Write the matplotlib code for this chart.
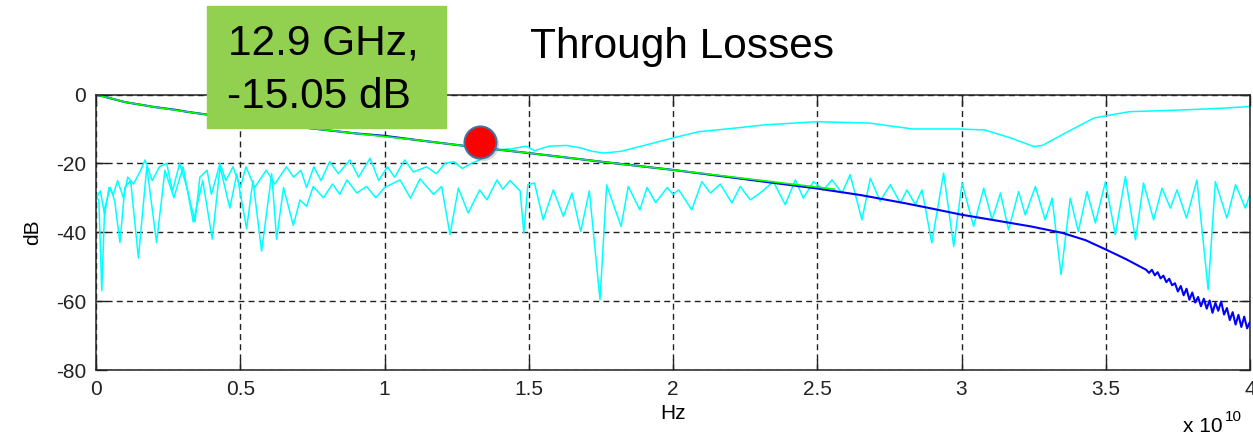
import matplotlib
matplotlib.use("Agg")
import matplotlib.pyplot as plt
from matplotlib.patches import Rectangle
import numpy as np

plt.rcParams["font.family"] = ["Liberation Sans", "DejaVu Sans"]
plt.rcParams["axes.unicode_minus"] = False

# through loss (blue, measured) - GHz / dB
thru_ghz = [0, 1, 2, 2.8, 3.14, 5, 7, 9, 10, 11.1, 12.9, 15, 17.5, 20, 22.5, 25,
            26.5, 28, 28.9, 30, 31.2, 32.4, 33.5, 34.3, 35.0, 35.7, 36.4,
            36.5, 36.6, 36.7, 36.8, 36.9, 37.0, 37.1, 37.2, 37.3, 37.4, 37.5,
            37.6, 37.7, 37.8, 37.9, 38.0, 38.1, 38.2, 38.3, 38.4, 38.5, 38.6,
            38.7, 38.8, 38.9, 39.0, 39.1, 39.2, 39.3, 39.4, 39.5, 39.6, 39.7,
            39.8, 39.9, 40.0]
thru_db = [0, -2.2, -3.6, -4.5, -5.0, -7.2, -9.4, -11.3, -12.0, -13.2, -15.05,
           -17.0, -19.5, -21.9, -24.6, -27.3, -29.2, -31.5, -33.0, -34.9, -36.6,
           -38.3, -40.2, -42.3, -45.0, -47.8, -50.9,
           -51.8, -50.9, -52.5, -51.6, -53.4, -52.6, -54.5, -53.5, -55.4, -54.8,
           -57.2, -55.6, -58.3, -56.4, -59.6, -57.5, -60.4, -58.8, -61.5, -59.3,
           -62.2, -59.8, -63.4, -60.5, -62.8, -60.1, -63.9, -62.0, -65.5, -63.2,
           -66.8, -64.0, -67.5, -64.5, -67.9, -66.0]

# fitted through loss (green)
fit_ghz = [0, 1, 2, 3.14, 5, 7, 9, 11.1, 12.9, 15, 17.5, 20, 22.5, 25, 25.6]
fit_db = [0, -2.2, -3.6, -5.0, -7.2, -9.4, -11.3, -13.2, -15.05, -17.0, -19.5,
          -21.9, -24.4, -26.9, -27.5]

# return loss, port 1 (cyan, deep nulls)
rl1_ghz = [0.0, 0.1, 0.2, 0.3, 0.5, 0.65, 0.83, 1.0, 1.2, 1.47, 1.76, 2.1, 2.39,
           2.7, 3.02, 3.37, 3.7, 4.03, 4.3, 4.64, 4.88, 5.22, 5.44, 5.74, 6.09,
           6.26, 6.5, 6.84, 7.07, 7.3, 7.53, 7.88, 8.2, 8.45, 8.7, 9.04, 9.38,
           9.7, 10.0, 10.54, 10.9, 11.23, 11.7, 11.98, 12.27, 12.56, 12.9, 13.3,
           13.55, 13.9, 14.1, 14.35, 14.7, 14.83, 14.97, 15.2, 15.5, 15.85, 16.2,
           16.5, 16.8, 17.1, 17.47, 17.7, 18.2, 18.45, 18.85, 19.1, 19.4, 19.8,
           20.0, 20.2, 20.65, 21.0, 21.3, 21.64, 22.04, 22.33, 22.68, 23.02,
           23.48, 23.89, 24.24, 24.52, 24.87, 25.22, 25.51, 25.86, 26.14, 26.55,
           26.84, 27.18, 27.53, 27.88, 28.11, 28.4, 28.63, 28.97, 29.38, 29.73,
           30.02, 30.42, 30.77, 31.06, 31.35, 31.63, 31.98, 32.21, 32.56, 32.9,
           33.14, 33.45, 33.77, 34.05, 34.35, 34.64, 34.99, 35.33, 35.68, 36.03,
           36.31, 36.66, 36.95, 37.24, 37.47, 37.8, 38.16, 38.55, 38.8, 39.2,
           39.5, 39.84, 40.0]
rl1_db = [-29, -31, -57, -33, -27, -31, -43, -27, -25, -47.5, -21, -43, -22,
          -30, -21, -37, -25, -42, -21, -33, -23, -39, -25, -45.5, -23,
          -42, -27, -38, -30.6, -32.5, -26.7, -30, -26, -29, -24.8, -28.6, -26.7,
          -30, -27, -24.8, -30.1, -24.5, -29, -26.7, -40.7, -27.2, -34.4, -27.7,
          -30.6, -24.8, -27.5, -25, -28, -40.2, -26.2, -25.7, -36.4, -27.7, -35.4,
          -28.6, -39.8, -28, -59.6, -26.3, -38.3, -26.7, -33.5, -27, -31.4, -27,
          -29, -27.7, -33.5, -25.3, -28.6, -26, -31.5, -26.7, -30.6, -28.6,
          -25.3, -32, -24.8, -30.1, -25.3, -27.7, -24.8, -28.6, -23.3, -36.4,
          -24.3, -31, -26.2, -31.5, -27.7, -32, -27.7, -43.1, -22.8, -44.1,
          -25.7, -38.3, -27.2, -36.4, -28.6, -39.3, -28.2, -35, -26.7, -36.4,
          -30.1, -52.3, -30.1, -39.8, -28.2, -37.3, -25.3, -40.7, -23.8, -42.2,
          -25.7, -36.4, -27.2, -33, -27.7, -35.9, -24.8, -56.7, -25.3, -35.9,
          -26.2, -33, -29]

# return loss, port 2 (cyan, rising above ~13 GHz)
rl2_ghz = [0.0, 0.15, 0.3, 0.45, 0.6, 0.75, 0.95, 1.1, 1.3, 1.55, 1.7, 1.95,
           2.2, 2.45, 2.65, 2.9, 3.15, 3.43, 3.6, 3.85, 4.0, 4.3, 4.5, 4.75, 5.0,
           5.2, 5.5, 5.74, 5.9, 6.2, 6.6, 6.85, 7.1, 7.3, 7.55, 7.8, 8.1, 8.4,
           8.8, 9.1, 9.5, 9.8, 10.1, 10.35, 10.7, 11.0, 11.46, 11.8, 12.1, 12.4,
           12.7, 13.0, 13.3, 13.8, 14.0, 14.4, 14.9, 15.2, 15.7, 16.3, 16.8, 17.2,
           17.6, 18.2, 18.9, 19.5, 20.0, 20.9, 22.1, 23.2, 25.0, 26.8, 28.3,
           29.9, 30.8, 31.7, 32.5, 32.8, 33.8, 34.6, 35.8, 37.6, 39.0, 40.0]
rl2_db = [-30, -28, -35, -27, -29, -25, -30, -24, -26, -22, -19, -25,
          -21, -20, -28, -20, -27, -37, -24, -22, -29, -20, -25, -21, -27,
          -21, -27, -24, -22, -26, -21, -24, -22, -27, -21, -25, -19.5, -23,
          -19, -24, -18.5, -25, -21, -24, -19, -22.5, -21, -23, -20, -19.5,
          -21.5, -20, -19, -15.6, -16, -15.8, -15, -16.3, -15, -14.8, -15.5, -16.5,
          -17, -16.5, -15, -13.7, -12.6, -10.8, -9.8, -8.8, -7.9, -8.3, -10,
          -10, -10.3, -12.6, -15.1, -14.8, -10.3, -6.8, -5, -4.5, -4, -3.5]

# annotation
mark_ghz, mark_db = 13.3, -13.7
note_lines = ["12.9 GHz,", "-15.05 dB"]
title_text = "Through Losses"

fig = plt.figure(figsize=(12.53, 4.37), dpi=100)
ax = fig.add_axes([96 / 1253, 67 / 437, 1154 / 1253, 275.5 / 437])

hz = lambda g: np.array(g) * 1e9
ax.plot(hz(rl1_ghz), rl1_db, color="#00FFFF", lw=1.1)
ax.plot(hz(rl2_ghz), rl2_db, color="#00FFFF", lw=1.1)
ax.plot(hz(thru_ghz), thru_db, color="#0000FF", lw=1.5)
ax.plot(hz(fit_ghz), fit_db, color="#00FF00", lw=1.2)

ax.set_xlim(0, 4e10)
ax.set_ylim(-80, 0)
xt = np.arange(0, 4.01e10, 0.5e10)
ax.set_xticks(xt)
ax.set_xticklabels(["%g" % (v / 1e10) for v in xt])
ax.set_yticks([-80, -60, -40, -20, 0])
ax.tick_params(direction="in", length=8, width=1, top=True, right=True,
               labelsize=15, pad=7, colors="#222222")
ax.grid(True, color="#222222", lw=1.0, linestyle=(0, (4.3, 3.0)))
for s in ax.spines.values():
    s.set_color("#222222")
    s.set_linewidth(1.1)

ax.set_xlabel("Hz", fontsize=15, labelpad=4)
ax.set_ylabel("dB", fontsize=15, labelpad=10)

fig.text(1183 / 1253, 1 - 432 / 437, "x 10", fontsize=15, va="baseline")
fig.text(1225 / 1253, 1 - 421 / 437, "10", fontsize=11, va="baseline")

# red marker with soft shadow
ax.plot(mark_ghz * 1e9 + 0.008e10, mark_db - 0.6, "o", ms=24, color="0.5",
        alpha=0.3, mec="none", clip_on=False, zorder=9)
ax.plot(mark_ghz * 1e9, mark_db, "o", ms=23, color="#FF0000", mec="#41719C",
        mew=1.5, clip_on=False, zorder=10)

# green note box
fig.add_artist(Rectangle((207 / 1253, 1 - 128 / 437), 239 / 1253, 122 / 437,
                         transform=fig.transFigure, color="#92D050", zorder=5))
fig.text(228 / 1253, 1 - 55 / 437, note_lines[0], fontsize=30.5,
         va="baseline", zorder=6)
fig.text(227 / 1253, 1 - 108 / 437, note_lines[1], fontsize=30.5,
         va="baseline", zorder=6)

fig.text(682 / 1253, 1 - 58 / 437, title_text, fontsize=30.5, ha="center",
         va="baseline")

fig.savefig("out.png", dpi=100)
